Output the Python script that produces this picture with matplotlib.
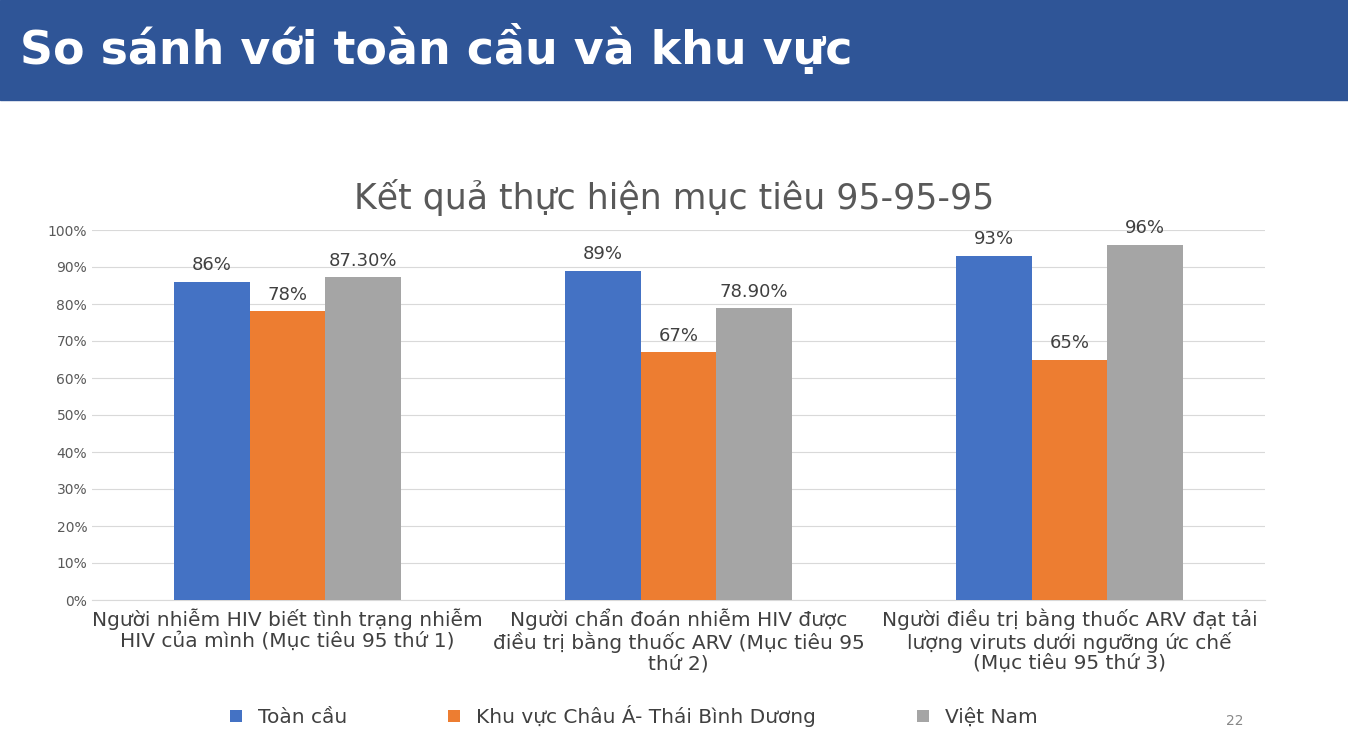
import numpy as np
import matplotlib.pyplot as plt
from matplotlib.patches import Rectangle

categories = [
    "Người nhiễm HIV biết tình trạng nhiễm\nHIV của mình (Mục tiêu 95 thứ 1)",
    "Người chẩn đoán nhiễm HIV được\nđiều trị bằng thuốc ARV (Mục tiêu 95\nthứ 2)",
    "Người điều trị bằng thuốc ARV đạt tải\nlượng viruts dưới ngưỡng ức chế\n(Mục tiêu 95 thứ 3)",
]
series_names = ["Toàn cầu", "Khu vực Châu Á- Thái Bình Dương", "Việt Nam"]
values = [
    [86, 89, 93],
    [78, 67, 65],
    [87.3, 78.9, 96],
]
value_labels = [
    ["86%", "89%", "93%"],
    ["78%", "67%", "65%"],
    ["87.30%", "78.90%", "96%"],
]
colors = ["#4472C4", "#ED7D31", "#A5A5A5"]

fig = plt.figure(figsize=(13.48, 7.52), dpi=100)

# header band
fig.patches.append(Rectangle((0, 1 - 100 / 752), 1, 100 / 752, transform=fig.transFigure,
                             color="#2F5597", zorder=0))
fig.text(0.015, 1 - 48 / 752, "So sánh với toàn cầu và khu vực", color="white",
         fontsize=33, fontweight="bold", va="center", ha="left")
fig.text(0.5, 1 - 198 / 752, "Kết quả thực hiện mục tiêu 95-95-95", color="#595959",
         fontsize=25, va="center", ha="center")
fig.text(1235 / 1348, 1 - 721 / 752, "22", color="#888888", fontsize=10, ha="center", va="center")

ax = fig.add_axes([92 / 1348, 1 - 600 / 752, 1173 / 1348, 370 / 752])
x = np.arange(len(categories))
w = 0.193
for i, (vals, labs) in enumerate(zip(values, value_labels)):
    bars = ax.bar(x + (i - 1) * w, vals, w, color=colors[i], label=series_names[i], zorder=3)
    for b, lab in zip(bars, labs):
        ax.text(b.get_x() + b.get_width() / 2, b.get_height() + 2, lab, ha="center",
                va="bottom", fontsize=13, color="#404040")

ax.set_xlim(-0.5, 2.5)
ax.set_ylim(0, 100)
ax.set_yticks(range(0, 101, 10))
ax.set_yticklabels([f"{v}%" for v in range(0, 101, 10)], fontsize=10, color="#595959")
ax.grid(axis="y", color="#D9D9D9", linewidth=0.8, zorder=0)
ax.set_xticks(x)
ax.set_xticklabels(categories, fontsize=14.5, color="#404040", linespacing=1.1)
ax.tick_params(axis="both", length=0)
ax.tick_params(axis="x", pad=6)
for s in ["top", "right", "left"]:
    ax.spines[s].set_visible(False)
ax.spines["bottom"].set_color("#D9D9D9")

fig.legend(loc="center", bbox_to_anchor=(0.47, 1 - 716 / 752), ncol=3, frameon=False,
           fontsize=14.5, handlelength=0.6, handleheight=0.6, columnspacing=5,
           labelcolor="#404040")

plt.savefig("out.png", dpi=100)
